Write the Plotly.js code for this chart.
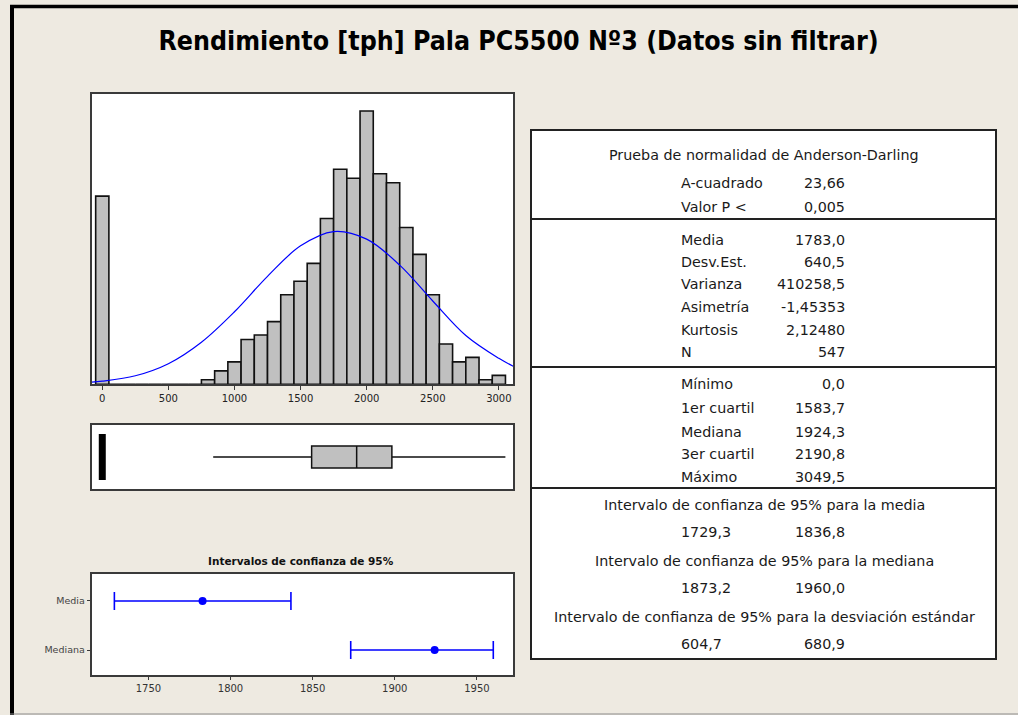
<!DOCTYPE html>
<html>
<head>
<meta charset="utf-8">
<script src="https://cdn.plot.ly/plotly-3.0.1.min.js"></script>
<style>html,body{margin:0;padding:0;background:#EEEAE1;}#chart{width:1018px;height:715px;}</style>
</head>
<body>
<div id="chart"></div>
<script>
// ---------- DATA ----------
const chartTitle = 'Rendimiento [tph] Pala PC5500 Nº3 (Datos sin filtrar)';

// Histogram (bin centres, bin width 100)
const binCenters = [0,100,200,300,400,500,600,700,800,900,1000,1100,1200,1300,1400,1500,1600,1700,1800,1900,2000,2100,2200,2300,2400,2500,2600,2700,2800,2900,3000];
const binCounts  = [42,0,0,0,0,0,0,0,1,3,5,10,11,14,20,23,27,37,48,46,61,47,45,35,29,20,9,5,6,1,2];

// Fitted normal curve
const curveX = [-80,0,250,500,750,1000,1250,1500,1750,2000,2250,2500,2750,3000,3110];
const curveY = [0.5,0.7,1.9,4.6,9.4,16.2,24.1,30.9,34.1,32.4,26.6,18.6,10.9,5.8,4.0];

const histTicks = [0,500,1000,1500,2000,2500,3000];

// Box plot summary
const boxQ1 = 1583.7, boxMedian = 1924.3, boxQ3 = 2190.8;
const boxLowerWhisker = 839, boxUpperWhisker = 3049.5;
const boxOutliers = [0];

// Confidence intervals
const ciTitle = 'Intervalos de confianza de 95%';
const ciCategories = ['Media','Mediana'];
const ciCenter = [1783.0, 1924.3];
const ciLower  = [1729.3, 1873.2];
const ciUpper  = [1836.8, 1960.0];
const ciTicks  = [1750,1800,1850,1900,1950];

// Summary table
const adTitle  = 'Prueba de normalidad de Anderson-Darling';
const adLabels = ['A-cuadrado','Valor P <'];
const adValues = ['23,66','0,005'];
const descLabels = ['Media','Desv.Est.','Varianza','Asimetría','Kurtosis','N'];
const descValues = ['1783,0','640,5','410258,5','-1,45353','2,12480','547'];
const quartLabels = ['Mínimo','1er cuartil','Mediana','3er cuartil','Máximo'];
const quartValues = ['0,0','1583,7','1924,3','2190,8','3049,5'];
const intTitles = ['Intervalo de confianza de 95% para la media','Intervalo de confianza de 95% para la mediana','Intervalo de confianza de 95% para la desviación estándar'];
const intLow  = ['1729,3','1873,2','604,7'];
const intHigh = ['1836,8','1960,0','680,9'];

// ---------- LAYOUT HELPERS ----------
const W = 1018, H = 715;
const fx = x => x / W;
const fy = y => 1 - y / H;
const FONT = 'DejaVu Sans, Verdana, sans-serif';
const TXT = '#1a1a1a';
const FRAME = '#3a3a3a';

const plotL = 91.7, plotR = 513;

const traces = [];
traces.push({
  type:'bar', x: binCenters, y: binCounts, width: 100,
  marker:{color:'#C0C0C0', line:{color:'#111', width:1.6}},
  xaxis:'x', yaxis:'y', hoverinfo:'x+y'
});
traces.push({
  type:'scatter', mode:'lines', x: curveX, y: curveY,
  line:{color:'#0000FF', width:1.2, shape:'spline'},
  xaxis:'x', yaxis:'y'
});
traces.push({
  type:'box', orientation:'h', y:[0], q1:[boxQ1], median:[boxMedian], q3:[boxQ3],
  lowerfence:[boxLowerWhisker], upperfence:[boxUpperWhisker],
  width:0.69, whiskerwidth:0, fillcolor:'#C0C0C0',
  line:{color:'#111', width:1.5}, xaxis:'x2', yaxis:'y2', boxpoints:false
});
traces.push({
  type:'scatter', mode:'markers', x: boxOutliers, y: boxOutliers.map(()=>0),
  marker:{symbol:'line-ns', size:33, line:{color:'#000', width:7}},
  xaxis:'x2', yaxis:'y2'
});
traces.push({
  type:'scatter', mode:'markers', x: ciCenter, y: ciCategories,
  marker:{color:'#0000FF', size:8},
  error_x:{type:'data', symmetric:false,
    array: ciUpper.map((u,i)=>u-ciCenter[i]),
    arrayminus: ciCenter.map((c,i)=>c-ciLower[i]),
    color:'#0000FF', thickness:1.6, width:9},
  xaxis:'x3', yaxis:'y3'
});

const axBase = {showgrid:false, zeroline:false, showline:true, mirror:true, linecolor:FRAME, linewidth:2, fixedrange:true};

const annotations = [];
function txt(text, x, y, anchor, opts){
  annotations.push(Object.assign({text:text, x:fx(x), y:fy(y), xref:'paper', yref:'paper',
    xanchor:anchor, yanchor:'middle', showarrow:false,
    font:{family:FONT, size:14.3, color:TXT}}, opts||{}));
}
const tableCenter = 764, colLabel = 679, colValue = 847;
txt(adTitle, tableCenter, 155, 'center');
const adRowY = [183, 207];
adLabels.forEach((l,i)=>{ txt(l, colLabel, adRowY[i], 'left'); txt(adValues[i], colValue, adRowY[i], 'right'); });
const descRowY = [240, 262, 284, 307, 330, 352];
descLabels.forEach((l,i)=>{ txt(l, colLabel, descRowY[i], 'left'); txt(descValues[i], colValue, descRowY[i], 'right'); });
const quartRowY = [384, 408, 432, 454, 477];
quartLabels.forEach((l,i)=>{ txt(l, colLabel, quartRowY[i], 'left'); txt(quartValues[i], colValue, quartRowY[i], 'right'); });
const intTitleY = [505, 561, 617], intValY = [532, 588, 644];
intTitles.forEach((t,i)=>{
  txt(t, tableCenter, intTitleY[i], 'center');
  txt(intLow[i], colLabel, intValY[i], 'left');
  txt(intHigh[i], colValue, intValY[i], 'right');
});
txt('<b>'+ciTitle+'</b>', 301, 561, 'center', {font:{family:FONT, size:10.5, color:'#111'}});

const shapes = [
  // outer frame
  {type:'line', xref:'paper', yref:'paper', x0:fx(10), x1:1, y0:fy(6.5), y1:fy(6.5), line:{color:'#000', width:3.5}},
  {type:'line', xref:'paper', yref:'paper', x0:fx(12), x1:fx(12), y0:fy(5), y1:fy(715), line:{color:'#000', width:4}},
  {type:'line', xref:'paper', yref:'paper', x0:fx(10), x1:1, y0:fy(714), y1:fy(714), line:{color:'#8a8a8a', width:1}},
  // table
  {type:'rect', xref:'paper', yref:'paper', x0:fx(531), x1:fx(996), y0:fy(130), y1:fy(659), line:{color:'#222', width:2}, fillcolor:'#FFFFFF', layer:'below'},
  {type:'line', xref:'paper', yref:'paper', x0:fx(531), x1:fx(996), y0:fy(219), y1:fy(219), line:{color:'#222', width:2}},
  {type:'line', xref:'paper', yref:'paper', x0:fx(531), x1:fx(996), y0:fy(367), y1:fy(367), line:{color:'#222', width:2}},
  {type:'line', xref:'paper', yref:'paper', x0:fx(531), x1:fx(996), y0:fy(488), y1:fy(488), line:{color:'#222', width:2}}
];

const layout = {
  width:W, height:H, margin:{l:0,r:0,t:0,b:0},
  paper_bgcolor:'#EEEAE1', plot_bgcolor:'#FFFFFF', showlegend:false,
  title:{text:'<b>'+chartTitle+'</b>', x:fx(518.5), y:fy(41), xref:'paper', yref:'paper', xanchor:'center', yanchor:'middle',
    font:{family:'DejaVu Sans Condensed, DejaVu Sans, sans-serif', size:26.5, color:'#000'}},
  bargap:0,
  xaxis:Object.assign({}, axBase, {domain:[fx(plotL), fx(plotR)], anchor:'y', range:[-80,3107], tickvals:histTicks,
    ticks:'outside', ticklen:4, tickcolor:FRAME, tickfont:{family:FONT, size:10, color:'#222'}}),
  yaxis:Object.assign({}, axBase, {domain:[fy(384.3), fy(94)], anchor:'x', range:[0,64.8], showticklabels:false, ticks:''}),
  xaxis2:Object.assign({}, axBase, {domain:[fx(plotL), fx(plotR)], anchor:'y2', range:[-80,3107], showticklabels:false, ticks:''}),
  yaxis2:Object.assign({}, axBase, {domain:[fy(489), fy(425)], anchor:'x2', range:[-1,1], showticklabels:false, ticks:''}),
  xaxis3:Object.assign({}, axBase, {domain:[fx(plotL), fx(plotR)], anchor:'y3', range:[1715.5,1972], tickvals:ciTicks,
    ticks:'outside', ticklen:3, tickcolor:FRAME, tickfont:{family:FONT, size:10, color:'#333'}}),
  yaxis3:Object.assign({}, axBase, {domain:[fy(675), fy(574)], anchor:'x3', type:'category', categoryorder:'array', categoryarray:ciCategories,
    range:[1.51,-0.55], ticks:'outside', ticklen:3, tickcolor:FRAME, tickfont:{family:FONT, size:9.5, color:'#444'}}),
  annotations:annotations, shapes:shapes
};

Plotly.newPlot('chart', traces, layout, {displayModeBar:false, staticPlot:true});
</script>
</body>
</html>
